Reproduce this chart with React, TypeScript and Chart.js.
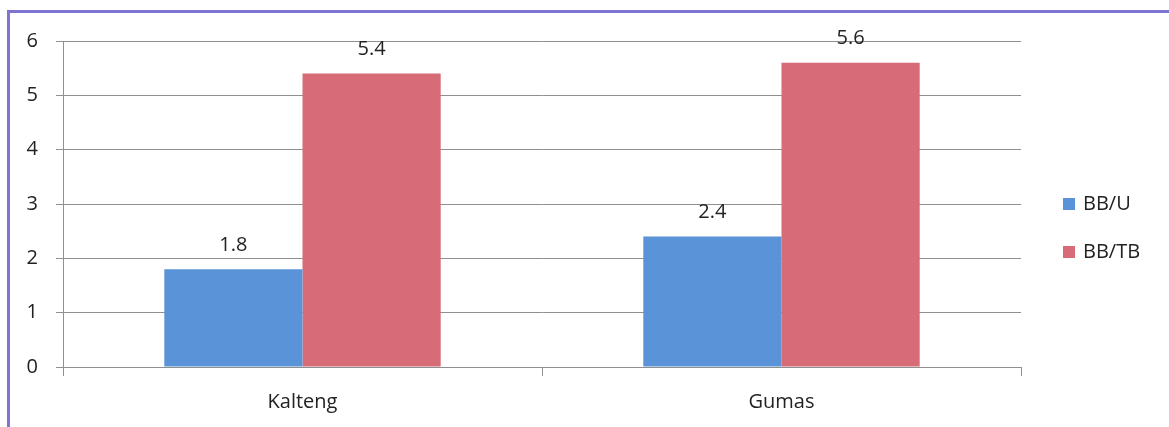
import React, { useEffect, useRef } from "react";
import { Chart, registerables } from "chart.js";

Chart.register(...registerables);

const categories = ["Kalteng", "Gumas"];
const seriesNames = ["BB/U", "BB/TB"];
const bbU = [1.8, 2.4];
const bbTB = [5.4, 5.6];
const seriesColors = ["#5a93d7", "#d86b78"];
const yTicks = [0, 1, 2, 3, 4, 5, 6];

const FONT = "'Open Sans', 'Noto Sans', sans-serif";
const TEXT = "#222222";
const GRID = "#8f8f8f";

// Writes each bar's value centred above it.
const valueLabels = {
  id: "valueLabels",
  afterDatasetsDraw(chart: any) {
    const ctx = chart.ctx;
    ctx.save();
    ctx.font = `20px ${FONT}`;
    ctx.fillStyle = TEXT;
    ctx.textAlign = "center";
    ctx.textBaseline = "middle";
    chart.data.datasets.forEach((ds: any, i: number) => {
      const meta = chart.getDatasetMeta(i);
      meta.data.forEach((bar: any, j: number) => {
        ctx.fillText(String(ds.data[j]), bar.x, bar.y - 24);
      });
    });
    ctx.restore();
  },
};

// Series key to the right of the plot.
const sideLegend = {
  id: "sideLegend",
  afterDraw(chart: any) {
    const ctx = chart.ctx;
    const x = chart.chartArea.right + 42;
    const rows = [204, 252];
    ctx.save();
    ctx.font = `20px ${FONT}`;
    ctx.textAlign = "left";
    ctx.textBaseline = "middle";
    chart.data.datasets.forEach((ds: any, i: number) => {
      const y = rows[i];
      ctx.fillStyle = ds.backgroundColor;
      ctx.fillRect(x, y - 6, 12, 12);
      ctx.fillStyle = TEXT;
      ctx.fillText(ds.label, x + 20, y);
    });
    ctx.restore();
  },
};

export default function App() {
  const canvasRef = useRef<HTMLCanvasElement | null>(null);

  useEffect(() => {
    const canvas = canvasRef.current;
    if (!canvas) return;
    const chart = new Chart(canvas, {
      type: "bar",
      data: {
        labels: categories,
        datasets: [
          {
            label: seriesNames[0],
            data: bbU,
            backgroundColor: seriesColors[0],
            categoryPercentage: 0.577,
            barPercentage: 1,
          },
          {
            label: seriesNames[1],
            data: bbTB,
            backgroundColor: seriesColors[1],
            categoryPercentage: 0.577,
            barPercentage: 1,
          },
        ],
      },
      options: {
        responsive: false,
        animation: false,
        devicePixelRatio: 1,
        layout: { padding: { left: 0, right: 148, top: 41, bottom: 0 } },
        plugins: {
          legend: { display: false },
          tooltip: { enabled: false },
        },
        scales: {
          x: {
            offset: true,
            grid: {
              display: true,
              offset: true,
              drawOnChartArea: false,
              drawTicks: true,
              tickLength: 9,
              color: GRID,
            },
            border: { display: true, color: GRID },
            ticks: {
              font: { family: FONT, size: 20 },
              color: TEXT,
              padding: 14,
            },
            afterFit: (s: any) => {
              s.height = 60;
            },
          },
          y: {
            min: yTicks[0],
            max: yTicks[yTicks.length - 1],
            afterBuildTicks: (s: any) => {
              s.ticks = yTicks.map((v) => ({ value: v }));
            },
            grid: {
              color: GRID,
              tickLength: 7,
              drawTicks: true,
            },
            border: { display: true, color: GRID },
            ticks: {
              font: { family: FONT, size: 20 },
              color: TEXT,
              padding: 18,
            },
            afterFit: (s: any) => {
              s.width = 63;
            },
          },
        },
      },
      plugins: [valueLabels, sideLegend],
    });
    return () => chart.destroy();
  }, []);

  return (
    <div
      style={{
        position: "fixed",
        left: 0,
        top: 0,
        width: 1169,
        height: 427,
        background: "#ffffff",
        overflow: "hidden",
      }}
    >
      <canvas
        ref={canvasRef}
        width={1169}
        height={427}
        style={{ position: "absolute", left: 0, top: 0 }}
      />
      <div
        style={{
          position: "absolute",
          left: 7,
          top: 10,
          width: 1169,
          height: 427,
          borderLeft: "3px solid #7d74d4",
          borderTop: "3px solid #7d74d4",
          boxSizing: "border-box",
          pointerEvents: "none",
        }}
      />
    </div>
  );
}
